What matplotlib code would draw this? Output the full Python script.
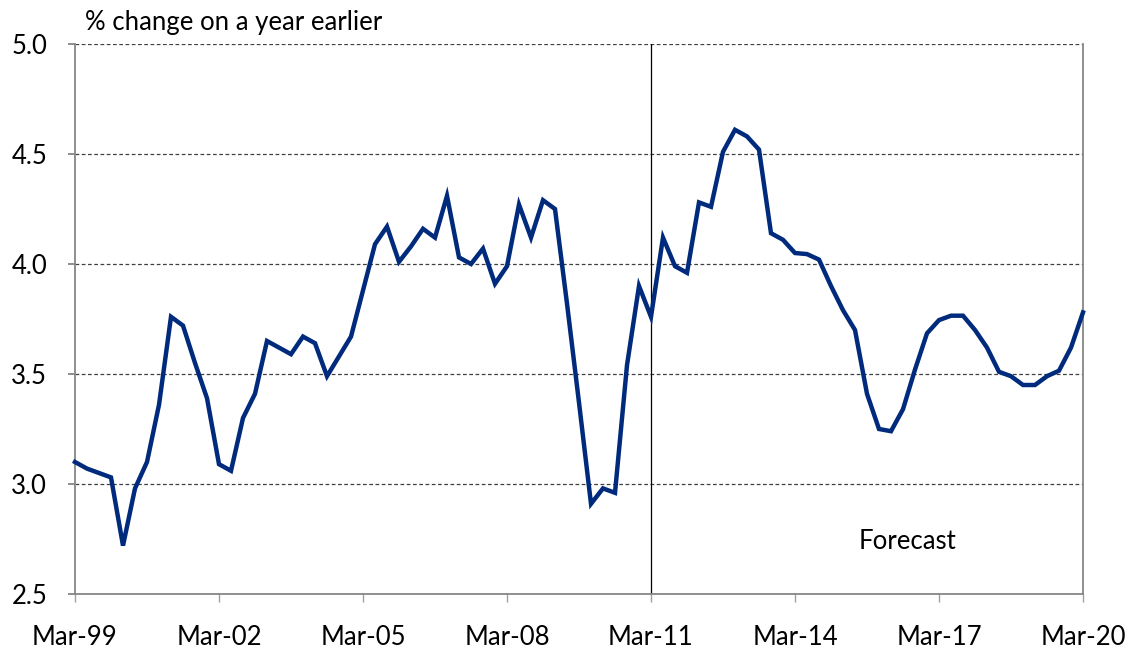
import matplotlib
matplotlib.use("Agg")
import matplotlib.pyplot as plt

# quarterly, Mar-99 .. Mar-20, % change on a year earlier
values = [3.10, 3.07, 3.05, 3.03, 2.72, 2.98, 3.10, 3.36, 3.76, 3.72,
          3.55, 3.39, 3.09, 3.06, 3.30, 3.41, 3.65, 3.62, 3.59, 3.67,
          3.64, 3.49, 3.58, 3.67, 3.88, 4.09, 4.17, 4.01, 4.08, 4.16,
          4.12, 4.31, 4.03, 4.00, 4.07, 3.91, 3.99, 4.27, 4.12, 4.29,
          4.25, 3.82, 3.37, 2.91, 2.98, 2.96, 3.54, 3.90, 3.76, 4.12,
          3.99, 3.96, 4.28, 4.26, 4.51, 4.61, 4.58, 4.52, 4.14, 4.11,
          4.05, 4.045, 4.02, 3.90, 3.79, 3.70, 3.41, 3.25, 3.24, 3.34,
          3.52, 3.685, 3.745, 3.765, 3.765, 3.70, 3.62, 3.51, 3.49, 3.45,
          3.45, 3.49, 3.515, 3.62, 3.78]
tick_labels = ["Mar-99", "Mar-02", "Mar-05", "Mar-08", "Mar-11", "Mar-14", "Mar-17", "Mar-20"]
y_ticks = [2.5, 3.0, 3.5, 4.0, 4.5, 5.0]
forecast_start = 48  # Mar-11

plt.rcParams['font.family'] = ['Lato', 'DejaVu Sans']

fig = plt.figure(figsize=(11.34, 6.53), dpi=100)
ax = fig.add_axes([75/1134, 1-594/653, (1083-75)/1134, (594-44)/653])

x = list(range(len(values)))
ax.plot(x, values, color="#002a7c", lw=3.2, solid_joinstyle="miter", zorder=3, clip_on=False)
ax.axvline(forecast_start, color="black", lw=0.9, zorder=2)

ax.set_xlim(0, len(values) - 1)
ax.set_ylim(2.5, 5.0)
ax.set_yticks(y_ticks)
ax.set_yticklabels([f"{t:.1f}" for t in y_ticks])
ax.set_xticks(range(0, len(values), 12))
ax.set_xticklabels(tick_labels)

for t in y_ticks[1:]:
    ax.axhline(t, color="#404040", lw=0.9, ls=(0, (3, 2)), zorder=1)

for s in ["left", "bottom", "right"]:
    ax.spines[s].set_color("#868686")
    ax.spines[s].set_linewidth(1.3)
ax.spines["top"].set_visible(False)

ax.tick_params(axis="y", length=5, width=1.3, color="#868686", pad=15, labelsize=18.5)
ax.tick_params(axis="x", length=6, width=1.0, color="#a0a0a0", pad=16, labelsize=18.5)

ax.text(0.85, 5.04, "% change on a year earlier", fontsize=18.5, ha="left", va="bottom")
ax.text(69.4, 2.74, "Forecast", fontsize=18.5, ha="center", va="center")

fig.savefig("out.png", dpi=100)
